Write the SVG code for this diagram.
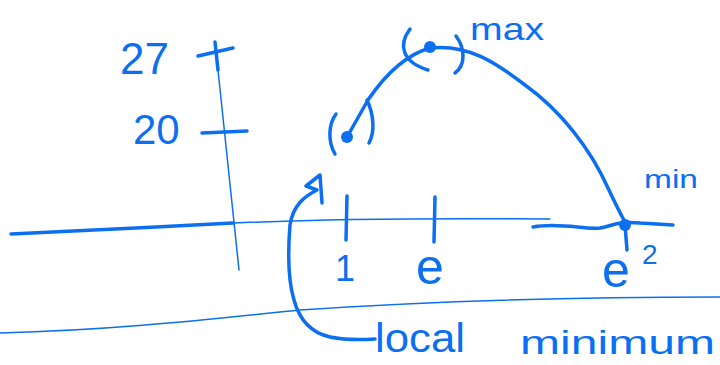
<svg xmlns="http://www.w3.org/2000/svg" width="720" height="365" viewBox="0 0 720 365">
<style>
.ink{fill:none;stroke:#0b6ff0;stroke-linecap:round;stroke-linejoin:round}
.thick{stroke-width:3.5}
.thin{stroke-width:1.5}
.lbl{fill:#0b6ff0;font-family:"Liberation Sans",Arial,sans-serif}
</style>
<rect width="720" height="365" fill="#fff"/>
<g id="axes">
<path class="ink thick" d="M11,234 C80,231 160,227 233,223"/>
<path class="ink thin" d="M233,223 C300,220 420,218 550,219"/>
<path class="ink thick" d="M533,227 C560,222 585,230 600,228 C612,226 616,221 640,223 L673,225"/>
<path class="ink thick" d="M215,42 L218,70"/>
<path class="ink thin" d="M218,70 C224,130 232,200 239,270"/>
<path class="ink thick" d="M198,56 L233,48"/>
<path class="ink thick" d="M202,133 L247,131"/>
<path class="ink thin" d="M0,333 C120,330 220,318 300,310 C450,300 600,297 720,297"/>
<path class="ink thick" d="M347,196 L346,240"/>
<path class="ink thick" d="M435,197 L434,242"/>
<path class="ink thick" d="M625,225 L627,250"/>
</g>
<g id="curve">
<path class="ink thick" d="M347,137 L368,100 C385,75 405,55 430,48 C468,44 495,62 525,85 C560,110 590,148 608,188 C615,203 620,213 625,222"/>
<circle cx="347" cy="137" r="6" fill="#0b6ff0"/>
<circle cx="430" cy="47" r="6" fill="#0b6ff0"/>
<circle cx="625" cy="225" r="6" fill="#0b6ff0"/>
<path class="ink thick" d="M336,114 C328,125 328,142 335,154"/>
<path class="ink thick" d="M367,100 C374,115 375,132 369,143"/>
<path class="ink thick" d="M410,29 C398,45 402,62 428,70"/>
<path class="ink thick" d="M456,36 C465,48 466,65 455,73"/>
</g>
<g id="arrow">
<path class="ink thick" d="M322,203 L320,175 L306,186 L317,190 C305,196 293,205 290,225 C288,250 288,280 294,300 C300,322 312,333 330,337 C345,340 360,340 375,339"/>
</g>
<g id="labels">
<text class="lbl" x="120" y="74" font-size="44">27</text>
<text class="lbl" x="133" y="144" font-size="42">20</text>
<text class="lbl" x="470" y="40" font-size="32" textLength="74" lengthAdjust="spacingAndGlyphs">max</text>
<text class="lbl" x="644" y="188" font-size="26" textLength="54" lengthAdjust="spacingAndGlyphs">min</text>
<text class="lbl" x="335" y="281" font-size="36">1</text>
<text class="lbl" x="416" y="284" font-size="50">e</text>
<text class="lbl" x="602" y="287" font-size="50">e</text>
<text class="lbl" x="642" y="264" font-size="28">2</text>
<text class="lbl" x="375" y="352" font-size="40" textLength="90" lengthAdjust="spacingAndGlyphs">local</text>
<text class="lbl" x="520" y="354" font-size="34" textLength="195" lengthAdjust="spacingAndGlyphs">minimum</text>
</g>
</svg>
